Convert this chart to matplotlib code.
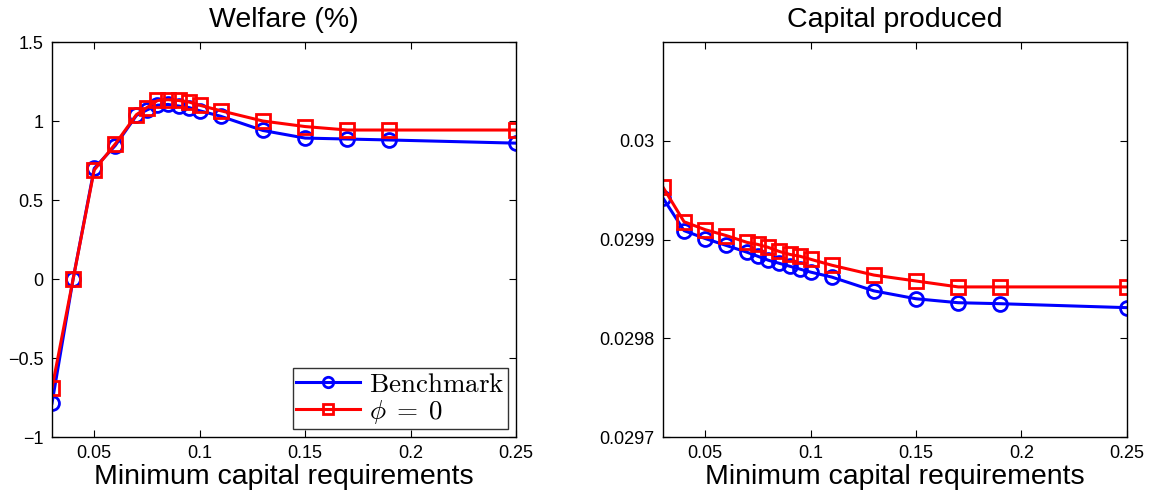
import matplotlib
matplotlib.use("Agg")
import matplotlib.pyplot as plt

plt.rcParams["font.family"] = ["Liberation Sans", "DejaVu Sans"]
plt.rcParams["mathtext.fontset"] = "cm"

# minimum capital requirement grid
mcr = [0.03, 0.04, 0.05, 0.06, 0.07, 0.075, 0.08, 0.085, 0.09, 0.095,
       0.10, 0.11, 0.13, 0.15, 0.17, 0.19, 0.25]

# welfare (%)
welfare_bench = [-0.785, 0.0, 0.70, 0.845, 1.035, 1.07, 1.10, 1.105, 1.095, 1.085,
                 1.065, 1.03, 0.94, 0.892, 0.886, 0.88, 0.86]
welfare_phi0 = [-0.69, 0.0, 0.69, 0.855, 1.04, 1.085, 1.13, 1.135, 1.13, 1.12,
                1.10, 1.065, 1.00, 0.965, 0.943, 0.943, 0.943]

# capital produced
capital_bench = [0.029942, 0.029909, 0.029901, 0.029894, 0.029887, 0.029883,
                 0.029879, 0.029876, 0.029873, 0.029870, 0.029867, 0.029862,
                 0.029848, 0.029840, 0.029836, 0.029835, 0.029831]
capital_phi0 = [0.029953, 0.029918, 0.029910, 0.029904, 0.029897, 0.029895,
                0.029892, 0.029888, 0.029885, 0.029883, 0.029880, 0.029874,
                0.029864, 0.029858, 0.029852, 0.029852, 0.029852]

xticks = [0.05, 0.1, 0.15, 0.2, 0.25]
xticklabels = ["0.05", "0.1", "0.15", "0.2", "0.25"]
yticks_w = [-1, -0.5, 0, 0.5, 1, 1.5]
yticklabels_w = ["\u22121", "\u22120.5", "0", "0.5", "1", "1.5"]
yticks_k = [0.0297, 0.0298, 0.0299, 0.03]
yticklabels_k = ["0.0297", "0.0298", "0.0299", "0.03"]

fig = plt.figure(figsize=(11.51, 4.99), dpi=100)
ax1 = fig.add_axes([0.0452, 0.1242, 0.4031, 0.7916])
ax2 = fig.add_axes([0.5760, 0.1242, 0.4031, 0.7916])

line_kw = dict(linewidth=2.2, markersize=10, markeredgewidth=2.0,
               markerfacecolor="none")

ax1.plot(mcr, welfare_bench, "-o", color="#0000ff", label=r"$\mathrm{Benchmark}$", **line_kw)
ax1.plot(mcr, welfare_phi0, "-s", color="#ff0000", label=r"$\phi\;=\;0$", **line_kw)

ax2.plot(mcr, capital_bench, "-o", color="#0000ff", **line_kw)
ax2.plot(mcr, capital_phi0, "-s", color="#ff0000", **line_kw)

for ax in (ax1, ax2):
    ax.set_xlim(0.03, 0.25)
    ax.set_xticks(xticks)
    ax.set_xticklabels(xticklabels)
    ax.tick_params(direction="in", top=True, right=True, labelsize=13,
                   length=5, width=0.8, pad=6)
    for sp in ax.spines.values():
        sp.set_linewidth(1.0)
    ax.set_xlabel("Minimum capital requirements", fontsize=20.5, labelpad=1)

ax1.set_ylim(-1, 1.5)
ax1.set_yticks(yticks_w)
ax1.set_yticklabels(yticklabels_w)
ax1.set_title("Welfare (%)", fontsize=20.5, pad=11)

ax2.set_ylim(0.0297, 0.0301)
ax2.set_yticks(yticks_k)
ax2.set_yticklabels(yticklabels_k)
ax2.set_title("Capital produced", fontsize=20.5, pad=11)

leg = ax1.legend(loc="lower right", fontsize=19.5, frameon=True, fancybox=False,
                 edgecolor="black", borderpad=0.12, labelspacing=0.0,
                 handlelength=2.35, handletextpad=0.33, borderaxespad=0.3,
                 markerscale=0.75)
leg.get_frame().set_linewidth(1.0)

fig.savefig("out.png", dpi=100)
